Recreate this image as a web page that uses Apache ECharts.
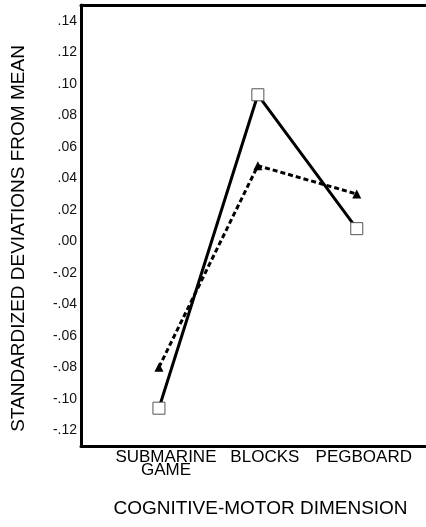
<!DOCTYPE html>
<html>
<head>
<meta charset="utf-8">
<script src="https://cdn.jsdelivr.net/npm/echarts@6/dist/echarts.min.js"></script>
<style>
html,body{margin:0;padding:0;background:#fff;}
#chart{width:426px;height:527px;}
</style>
</head>
<body>
<div id="chart"></div>
<script>
const categories = ['SUBMARINE\nGAME', 'BLOCKS', 'PEGBOARD'];
const solidValues = [-0.106, 0.093, 0.008];
const dashedValues = [-0.080, 0.048, 0.030];
const yTickValues = [-0.12, -0.10, -0.08, -0.06, -0.04, -0.02, 0.00, 0.02, 0.04, 0.06, 0.08, 0.10, 0.12, 0.14];
const yAxisTitle = 'STANDARDIZED DEVIATIONS FROM MEAN';
const xAxisTitle = 'COGNITIVE-MOTOR DIMENSION';

function fmtY(v) {
  const n = Math.round(v * 100);
  const s = '.' + String(Math.abs(n)).padStart(2, '0');
  return n < 0 ? '-' + s : s;
}

const chart = echarts.init(document.getElementById('chart'), null, {renderer: 'canvas'});
const font = '"Liberation Sans", Arial, Helvetica, sans-serif';
const xMin = 0.212, xMax = 3.70;

chart.setOption({
  backgroundColor: '#fff',
  animation: false,
  grid: {left: 81, top: 5, right: 0, bottom: 81, containLabel: false},
  xAxis: [{
    type: 'value', min: xMin, max: xMax, position: 'bottom',
    splitLine: {show: false},
    axisTick: {show: false},
    axisLine: {show: true, onZero: false, lineStyle: {color: '#000', width: 3}},
    axisLabel: {
      customValues: [1, 2, 3],
      hideOverlap: false,
      formatter: v => categories[Math.round(v) - 1] || '',
      color: '#000', fontFamily: font, fontSize: 17, lineHeight: 13,
      margin: 5, padding: [0, 0, 0, 14]
    },
    name: xAxisTitle, nameLocation: 'middle', nameGap: 53,
    nameTextStyle: {color: '#000', fontFamily: font, fontSize: 19, padding: [0, 0, 0, 14]}
  }, {
    type: 'value', min: xMin, max: xMax, position: 'top',
    splitLine: {show: false}, axisTick: {show: false}, axisLabel: {show: false},
    axisLine: {show: true, onZero: false, lineStyle: {color: '#000', width: 3}}
  }],
  yAxis: {
    type: 'value', min: -0.13, max: 0.15,
    splitLine: {show: false},
    axisTick: {show: false},
    axisLine: {show: true, onZero: false, lineStyle: {color: '#000', width: 3}},
    axisLabel: {
      customValues: yTickValues,
      formatter: fmtY,
      color: '#111', fontFamily: font, fontSize: 14, margin: 4
    },
    name: yAxisTitle, nameLocation: 'middle', nameGap: 53, nameRotate: 90,
    nameTextStyle: {color: '#000', fontFamily: font, fontSize: 19, padding: [0, 26, 0, 0]}
  },
  series: [{
    type: 'line',
    data: solidValues.map((v, i) => [i + 1, v]),
    lineStyle: {color: '#000', width: 3, type: 'solid'},
    symbol: 'rect', symbolSize: 12,
    itemStyle: {color: '#fff', borderColor: '#555', borderWidth: 1},
    z: 3
  }, {
    type: 'line',
    data: dashedValues.map((v, i) => [i + 1, v]),
    lineStyle: {color: '#000', width: 3, type: [5, 3]},
    symbol: 'triangle', symbolSize: 9,
    itemStyle: {color: '#000', borderColor: '#000', borderWidth: 0},
    z: 2
  }]
});
</script>
</body>
</html>
